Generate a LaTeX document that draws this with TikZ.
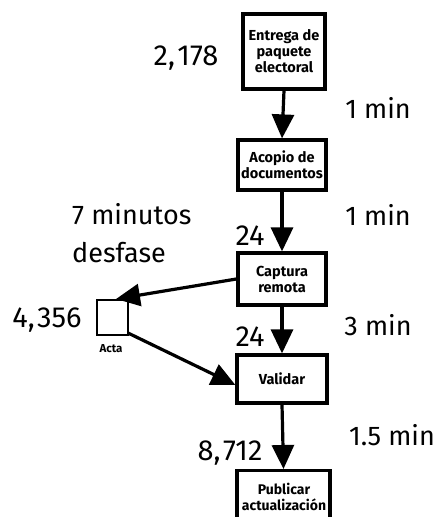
\documentclass[tikz,border=0pt]{standalone}
\usepackage{fontspec}
\setmainfont{Fira Sans}
\usetikzlibrary{arrows.meta}
\newcommand{\cm}{,\kern2.5pt}
\begin{document}
\begin{tikzpicture}[x=1pt,y=-1pt,
  box/.style={draw,line width=3.2pt,align=center,font=\bfseries\fontsize{14.5}{16}\selectfont,inner sep=0pt},
  big/.style={font=\fontsize{27}{38}\selectfont,inner sep=0pt},
  num/.style={font=\fontsize{29}{34}\selectfont,inner sep=0pt},
  arr/.style={line width=3.2pt,-{Triangle[length=24pt,width=22pt]}}]
\useasboundingbox (0,0) rectangle (441,517);
\clip (0,0) rectangle (441,517);
\node[box,minimum width=82pt,minimum height=75pt] (b1) at (284,51.5) {Entrega de\\paquete\\electoral};
\node[box,minimum width=88pt,minimum height=50pt] (b2) at (282,165) {Acopio de\\documentos};
\node[box,minimum width=88pt,minimum height=52pt] (b3) at (282,279) {Captura\\remota};
\node[box,minimum width=90pt,minimum height=48pt] (b4) at (282,379) {Validar};
\node[box,minimum width=93pt,minimum height=70pt,anchor=north] (b5) at (283.5,469) {};
\node[font=\bfseries\fontsize{14}{16}\selectfont,align=center,inner sep=0pt] (t5) at (284,497) {Publicar\\actualización};
\node[draw,line width=2.8pt,minimum width=31pt,minimum height=35pt,inner sep=0pt] (acta) at (112.5,317.5) {};
\node[font=\bfseries\fontsize{11.5}{13}\selectfont,inner sep=0pt] (actal) at (111,349) {Acta};
\node[num] (n1) at (186,58) {2\cm178};
\node[big] (m1) at (378,108) {1 min};
\node[big] (m2) at (378,215) {1 min};
\node[big,align=left,anchor=north west] (d7) at (72,203) {7 minutos\\desfase};
\node[num] (c1) at (250,236) {24};
\node[num] (n2) at (47,320) {4\cm356};
\node[num] (c2) at (250,337) {24};
\node[big] (m3) at (378,325) {3 min};
\node[big] (m4) at (392,435) {1.5 min};
\node[num] (n3) at (230,453) {8\cm712};
\coordinate (a1s) at (237,279);
\coordinate (a1e) at (116,299);
\coordinate (a2s) at (128,333);
\coordinate (a2e) at (236,385);
\draw[arr] (b1.south) -- (b2.north);
\draw[arr] (b2.south) -- (b3.north);
\draw[arr] (b3.south) -- (b4.north);
\draw[arr] (b4.south) -- (b5.north);
\draw[arr] (b3.west |- a1s) -- (a1e);
\draw[arr] (a2s) -- (b4.west |- a2e);
\end{tikzpicture}
\end{document}
